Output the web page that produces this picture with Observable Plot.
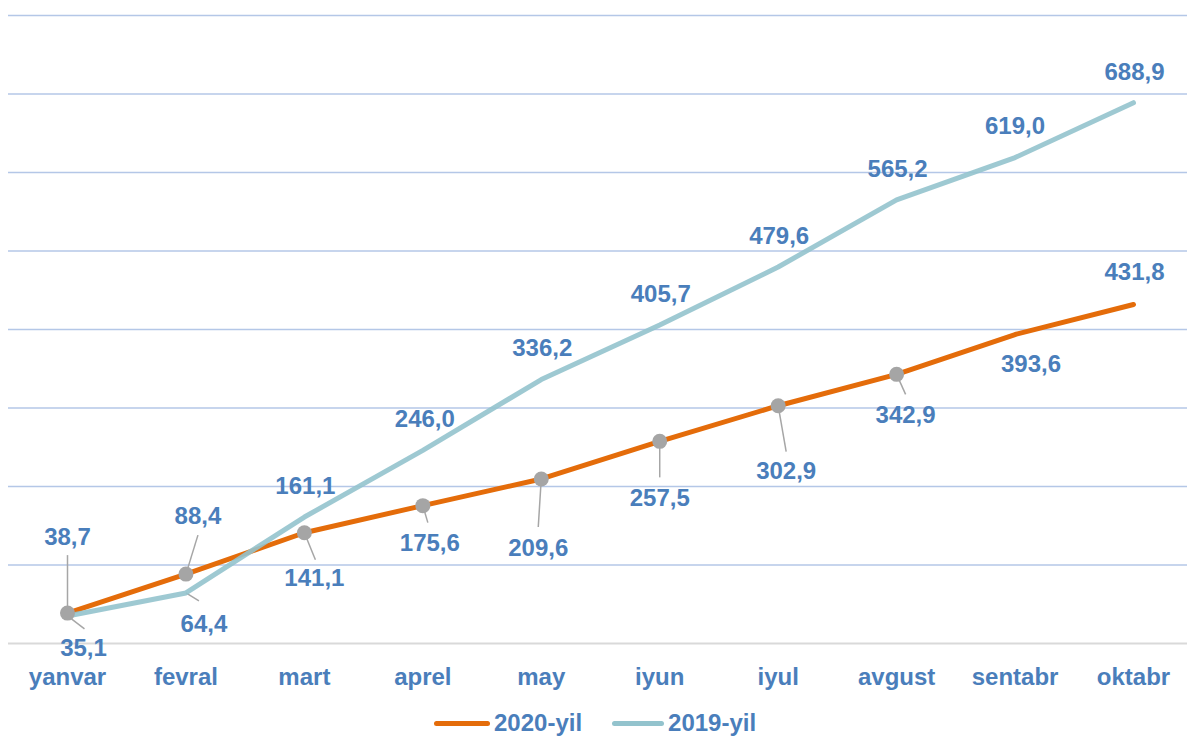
<!DOCTYPE html>
<html><head><meta charset="utf-8">
<script src="https://cdn.jsdelivr.net/npm/d3@7"></script>
<script src="https://cdn.jsdelivr.net/npm/@observablehq/plot@0.6"></script>
<style>
body{margin:0;background:#fff;overflow:hidden;font-family:"Liberation Sans",Arial,sans-serif;}
#wrap{position:relative;width:1187px;height:740px;overflow:hidden;}
#legend{position:absolute;left:434px;top:710px;display:flex;align-items:center;font-size:24px;font-weight:bold;color:#4a7ebb;line-height:26px;white-space:nowrap;}
.sw{display:inline-block;height:5px;border-radius:3px;margin-right:4px;}
</style></head><body><div id="wrap"><div id="chart"></div><div id="legend"></div></div>
<script>
const months = ["yanvar","fevral","mart","aprel","may","iyun","iyul","avgust","sentabr","oktabr"];
const values2020 = [38.7, 88.4, 141.1, 175.6, 209.6, 257.5, 302.9, 342.9, 393.6, 431.8];
const values2019 = [35.1, 64.4, 161.1, 246.0, 336.2, 405.7, 479.6, 565.2, 619.0, 688.9];
const seriesNames = ["2020-yil", "2019-yil"];
const gridValues = [100, 200, 300, 400, 500, 600, 700, 800];
const markerCount2020 = 8; // markers shown yanvar..avgust

// label placement (pixel offsets from each point)
const labelOffsets2020 = [[0,-76],[12,-58],[10,46],[7,38],[-3,69],[0,57],[8,66],[9,41],[16,30],[1,-32]];
const labelOffsets2019 = [[16,32],[18,31],[1,-31],[2,-31],[1,-31],[1,-31],[1,-31],[1,-31],[0,-31],[1,-30]];
const leaderEnds2020 = [[0,-58],[12,-39],[11,27],[5,17],[-3,48],[0,36],[8,46],[9,20],null,null];
const leaderEnds2019 = [[17,13],[13,8],null,null,null,null,null,null,null,null];

const colors = {o: "#e46c0a", b: "#93c3cd", label: "#4a7ebb", marker: "#a5a5a5", leader: "#a6a6a6", grid: "#b4c7e7", base: "#d9d9d9"};
const W = 1187, H = 700, mL = 8, mR = 0, mT = 15, mB = 57;
const xRange = [67, 1133];
const step = (xRange[1] - xRange[0]) / (months.length - 1);
const ky = (H - mB - mT) / 800;
const fmt = v => v.toFixed(1).replace(".", ",");

const idx = months.map((_, i) => i);
const d2020 = idx.map(i => ({i, v: values2020[i]}));
const d2019 = idx.map(i => ({i, v: values2019[i]}));

const leaders = [];
[[values2020, leaderEnds2020], [values2019, leaderEnds2019]].forEach(([vals, ends]) => {
  ends.forEach((e, i) => {
    if (!e) return;
    leaders.push({x1: i, y1: vals[i], x2: i + e[0] / step, y2: vals[i] - e[1] / ky});
  });
});

const labelMarks = [];
[[values2020, labelOffsets2020], [values2019, labelOffsets2019]].forEach(([vals, offs]) => {
  vals.forEach((v, i) => {
    labelMarks.push(Plot.text([{i, v}], {
      x: "i", y: "v", text: d => fmt(d.v), dx: offs[i][0], dy: offs[i][1],
      fill: colors.label, fontSize: 24, fontWeight: "bold"
    }));
  });
});

const chart = Plot.plot({
  width: W, height: H,
  marginLeft: mL, marginRight: mR, marginTop: mT, marginBottom: mB,
  x: {type: "linear", domain: [0, months.length - 1], range: xRange, ticks: idx,
      tickFormat: i => months[i], tickSize: 0, tickPadding: 24, label: null},
  y: {domain: [0, 800], axis: null},
  style: {fontFamily: "'Liberation Sans', Arial, sans-serif", fontSize: "24px", fontWeight: "bold", color: colors.label, background: "white", overflow: "visible"},
  marks: [
    Plot.ruleY(gridValues, {stroke: colors.grid, strokeWidth: 1.5}),
    Plot.ruleY([0], {stroke: colors.base, strokeWidth: 2}),
    Plot.link(leaders, {x1: "x1", y1: "y1", x2: "x2", y2: "y2", stroke: colors.leader, strokeWidth: 1.5}),
    Plot.line(d2020, {x: "i", y: "v", stroke: colors.o, strokeWidth: 5, strokeLinejoin: "round"}),
    Plot.line(d2019, {x: "i", y: "v", stroke: colors.b, strokeWidth: 5, strokeLinejoin: "round", strokeOpacity: 0.9}),
    Plot.dot(d2020.slice(0, markerCount2020), {x: "i", y: "v", r: 7.5, fill: colors.marker}),
    ...labelMarks
  ]
});
document.getElementById("chart").appendChild(chart);

const legend = document.getElementById("legend");
[[seriesNames[0], colors.o, 56, 30], [seriesNames[1], colors.b, 52, 0]].forEach(([name, c, w, gap]) => {
  const sw = document.createElement("span");
  sw.className = "sw"; sw.style.background = c; sw.style.width = w + "px";
  const t = document.createElement("span");
  t.textContent = name; t.style.marginRight = gap + "px";
  legend.appendChild(sw); legend.appendChild(t);
});
</script></body></html>
